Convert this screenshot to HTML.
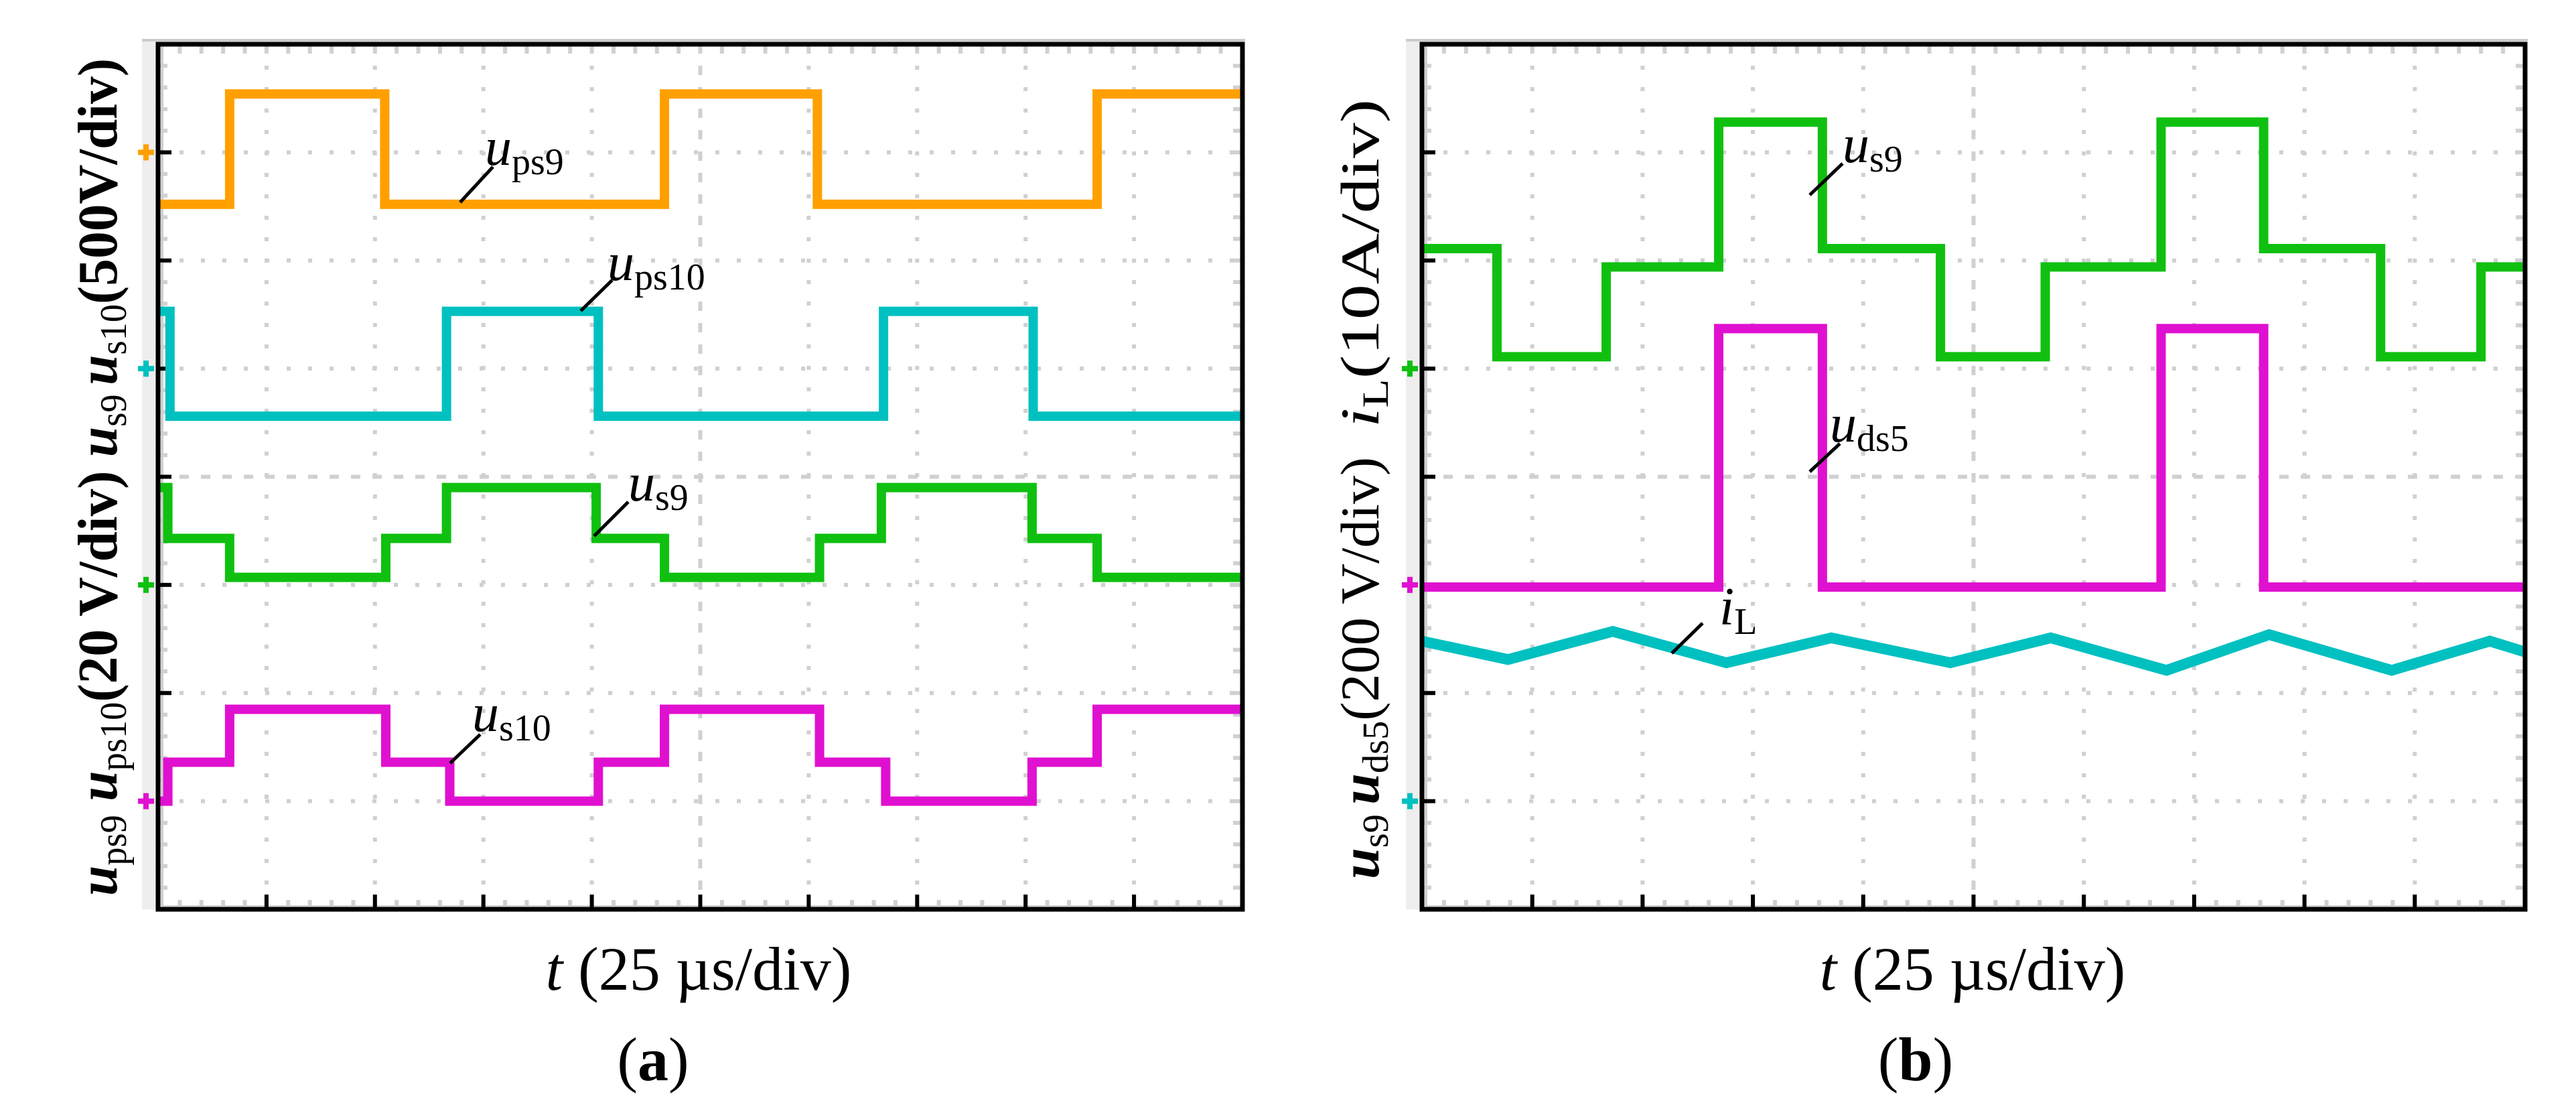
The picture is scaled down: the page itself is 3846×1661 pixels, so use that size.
<!DOCTYPE html>
<html><head><meta charset="utf-8"><style>
html,body{margin:0;padding:0;background:#fff;}
svg{display:block;}
text{font-family:"Liberation Serif",serif;}
</style></head><body>
<svg id="fig" width="3846" height="1661" viewBox="0 0 3846 1661" xmlns="http://www.w3.org/2000/svg">
<g id="panelA"></g>
<g id="panelB"></g>

<text transform="translate(174,1337) rotate(-90)" font-size="84" textLength="1250" lengthAdjust="spacingAndGlyphs"><tspan font-style="italic" font-weight="bold">u</tspan><tspan font-size="56" dy="14">ps9</tspan><tspan dy="-14"> </tspan><tspan font-style="italic" font-weight="bold">u</tspan><tspan font-size="56" dy="14">ps10</tspan><tspan dy="-14" font-weight="bold">(20 V/div) </tspan><tspan font-style="italic" font-weight="bold">u</tspan><tspan font-size="56" dy="14">s9 </tspan><tspan dy="-14" font-style="italic" font-weight="bold">u</tspan><tspan font-size="56" dy="14">s10</tspan><tspan dy="-14" font-weight="bold">(500V/div)</tspan></text>

<text transform="translate(2058,1312) rotate(-90)" font-size="82" textLength="630" lengthAdjust="spacingAndGlyphs"><tspan font-style="italic" font-weight="bold">u</tspan><tspan font-size="55" dy="14">s9 </tspan><tspan dy="-14" font-style="italic" font-weight="bold">u</tspan><tspan font-size="55" dy="14">ds5</tspan><tspan dy="-14">(200 V/div)</tspan></text>
<text transform="translate(2058,638) rotate(-90)" font-size="82" textLength="490" lengthAdjust="spacingAndGlyphs"><tspan font-style="italic">i</tspan><tspan font-size="55" dy="14">L</tspan><tspan dy="-14">(10A/div)</tspan></text>

<text x="1043" y="1477" font-size="92" text-anchor="middle"><tspan font-style="italic">t</tspan> (25 µs/div)</text>
<text x="2945" y="1477" font-size="92" text-anchor="middle"><tspan font-style="italic">t</tspan> (25 µs/div)</text>
<text x="975" y="1612" font-size="92" text-anchor="middle">(<tspan font-weight="bold">a</tspan>)</text>
<text x="2860" y="1612" font-size="92" text-anchor="middle">(<tspan font-weight="bold">b</tspan>)</text>

<g font-size="80">
<line x1="687" y1="302" x2="736" y2="249" stroke="#000" stroke-width="5"/>
<text x="724" y="246"><tspan font-style="italic">u</tspan><tspan font-size="56" dy="14">ps9</tspan></text>
<line x1="867" y1="464" x2="914" y2="418" stroke="#000" stroke-width="5"/>
<text x="907" y="418"><tspan font-style="italic">u</tspan><tspan font-size="56" dy="14">ps10</tspan></text>
<line x1="887" y1="800" x2="938" y2="749" stroke="#000" stroke-width="5"/>
<text x="938" y="747"><tspan font-style="italic">u</tspan><tspan font-size="56" dy="14">s9</tspan></text>
<line x1="672" y1="1139" x2="717" y2="1096" stroke="#000" stroke-width="5"/>
<text x="705" y="1091"><tspan font-style="italic">u</tspan><tspan font-size="56" dy="14">s10</tspan></text>
<line x1="2702" y1="291" x2="2751" y2="244" stroke="#000" stroke-width="5"/>
<text x="2751" y="242"><tspan font-style="italic">u</tspan><tspan font-size="56" dy="14">s9</tspan></text>
<line x1="2702" y1="704" x2="2747" y2="662" stroke="#000" stroke-width="5"/>
<text x="2732" y="659"><tspan font-style="italic">u</tspan><tspan font-size="56" dy="14">ds5</tspan></text>
<line x1="2496" y1="975" x2="2542" y2="930" stroke="#000" stroke-width="5"/>
<text x="2567" y="932"><tspan font-style="italic">i</tspan><tspan font-size="56" dy="14">L</tspan></text>
</g>
</svg>
<script>
// ---- data (in scope divisions: x 0..10, y 0..8 from top) ----
const orangeLevels = [1.48,0.46,1.48,0.46,1.48,0.46];
const orangeEdges = [0.66,2.09,4.67,6.08,8.66];
const cyanALevels = [2.47,3.44,2.47,3.44,2.47,3.44];
const cyanAEdges = [0.11,2.66,4.06,6.69,8.07];
const greenALevels = [4.10,4.57,4.93,4.57,4.10,4.57,4.93,4.57,4.10,4.57,4.93];
const greenAEdges = [0.09,0.66,2.10,2.66,4.04,4.67,6.10,6.67,8.06,8.66];
const magentaALevels = [7.0,6.64,6.15,6.64,7.0,6.64,6.15,6.64,7.0,6.64,6.15];
const magentaAEdges = [0.09,0.66,2.10,2.69,4.06,4.67,6.10,6.71,8.06,8.66];
const greenBLevels = [1.89,2.89,2.06,0.72,1.89,2.89,2.06,0.72,1.89,2.89,2.06];
const greenBEdges = [0.68,1.67,2.69,3.63,4.70,5.65,6.70,7.63,8.69,9.60];
const magentaBLevels = [5.02,2.63,5.02,2.63,5.02];
const magentaBEdges = [2.69,3.63,6.70,7.63];
const cyanBTimes = [0,0.78,1.73,2.76,3.71,4.79,5.70,6.75,7.68,8.79,9.68,10];
const cyanBValues = [5.52,5.69,5.43,5.72,5.49,5.72,5.49,5.79,5.46,5.79,5.52,5.62];
const groundA = [1,3,5,7];
const groundB = [3,5,7];

const NS = "http://www.w3.org/2000/svg";
const COL = {orange:"#FFA000", cyan:"#00C0C0", green:"#10C010", magenta:"#E010D0"};
function mk(parent, tag, attrs){const e=document.createElementNS(NS,tag);for(const k in attrs)e.setAttribute(k,attrs[k]);parent.appendChild(e);return e;}

function makePanel(g, L, R, T, B){
  const sx = d => L + d*(R-L)/10;
  const sy = d => T + d*(B-T)/8;
  const strip = mk(g,"rect",{x:L-24,y:T-6,width:24,height:B-T+6,fill:"#eeeeee"});
  
  
  const topline = mk(g,"rect",{x:L-24,y:T-8,width:R-L+28,height:4,fill:"#cccccc"});
  
  
  for(let i=1;i<10;i++){
    const c = i===5;
    const gl = mk(g,"line",{x1:sx(i),y1:T,x2:sx(i),y2:B,stroke:"#d0d0d0","stroke-width":6,"stroke-dasharray":c?"14 18":"6 26"});
    
    
  }
  for(let i=1;i<8;i++){
    const c = i===4;
    const gl = mk(g,"line",{x1:L,y1:sy(i),x2:R,y2:sy(i),stroke:"#d0d0d0","stroke-width":6,"stroke-dasharray":c?"14 18":"6 26"});
    
    
  }
  for(let i=1;i<50;i++){
    const x = sx(i/5);
    mk(g,"line",{x1:x,y1:T,x2:x,y2:T+14,stroke:"#d0d0d0","stroke-width":6});
    mk(g,"line",{x1:x,y1:B,x2:x,y2:B-14,stroke:"#d0d0d0","stroke-width":6});
  }
  for(let i=1;i<40;i++){
    const y = sy(i/5);
    mk(g,"line",{x1:L,y1:y,x2:L+14,y2:y,stroke:"#d0d0d0","stroke-width":6});
    mk(g,"line",{x1:R,y1:y,x2:R-14,y2:y,stroke:"#d0d0d0","stroke-width":6});
  }
  mk(g,"line",{x1:L+4,y1:B-4,x2:R,y2:B-4,stroke:"#d0d0d0","stroke-width":4});
  mk(g,"line",{x1:L+6,y1:T,x2:L+6,y2:B,stroke:"#d0d0d0","stroke-width":4});
  for(let i=1;i<8;i++) mk(g,"line",{x1:L,y1:sy(i),x2:L+20,y2:sy(i),stroke:"#000","stroke-width":6});
  for(let i=1;i<10;i++) mk(g,"line",{x1:sx(i),y1:B,x2:sx(i),y2:B-22,stroke:"#000","stroke-width":6});
  return {sx,sy};
}

function stepTrace(g, ax, levels, edges, color, name){
  let d = `M${ax.sx(0)},${ax.sy(levels[0])}`;
  for(let i=0;i<edges.length;i++){
    d += ` H${ax.sx(edges[i])} V${ax.sy(levels[i+1])}`;
  }
  d += ` H${ax.sx(10)}`;
  const p = mk(g,"path",{d:d,fill:"none",stroke:color,"stroke-width":14,"stroke-linejoin":"miter"});
  
  
}

function lineTrace(g, ax, xs, ys, color, name){
  const d = xs.map((x,i)=>(i?"L":"M")+ax.sx(x)+","+ax.sy(ys[i])).join(" ");
  const p = mk(g,"path",{d:d,fill:"none",stroke:color,"stroke-width":16});
  
  
}

function ground(g, ax, L, lvl, color, name){
  const y = ax.sy(lvl);
  const m = mk(g,"path",{d:`M${L-30},${y} H${L-6} M${L-18},${y-12} V${y+12}`,stroke:color,"stroke-width":8,fill:"none"});
  
  
}

function border(g,L,R,T,B,name){
  const r = mk(g,"rect",{x:L,y:T,width:R-L,height:B-T,fill:"none",stroke:"#000","stroke-width":7});
  
  
}

const gA = document.getElementById('panelA');
const A = makePanel(gA, 236, 1855, 66, 1357);
stepTrace(gA, A, orangeLevels, orangeEdges, COL.orange, 'trace-ups9');
stepTrace(gA, A, cyanALevels, cyanAEdges, COL.cyan, 'trace-ups10');
stepTrace(gA, A, greenALevels, greenAEdges, COL.green, 'trace-us9');
stepTrace(gA, A, magentaALevels, magentaAEdges, COL.magenta, 'trace-us10');
const colsA = [COL.orange, COL.cyan, COL.green, COL.magenta];
groundA.forEach((lv,i)=>ground(gA, A, 236, lv, colsA[i], 'ground-marker-a'));
border(gA,236,1855,66,1357,'plot-frame-a');

const gB = document.getElementById('panelB');
const Bx = makePanel(gB, 2123, 3770, 66, 1357);
stepTrace(gB, Bx, greenBLevels, greenBEdges, COL.green, 'trace-us9-b');
stepTrace(gB, Bx, magentaBLevels, magentaBEdges, COL.magenta, 'trace-uds5');
lineTrace(gB, Bx, cyanBTimes, cyanBValues, COL.cyan, 'trace-iL');
const colsB = [COL.green, COL.magenta, COL.cyan];
groundB.forEach((lv,i)=>ground(gB, Bx, 2123, lv, colsB[i], 'ground-marker-b'));
border(gB,2123,3770,66,1357,'plot-frame-b');
</script>
</body></html>
